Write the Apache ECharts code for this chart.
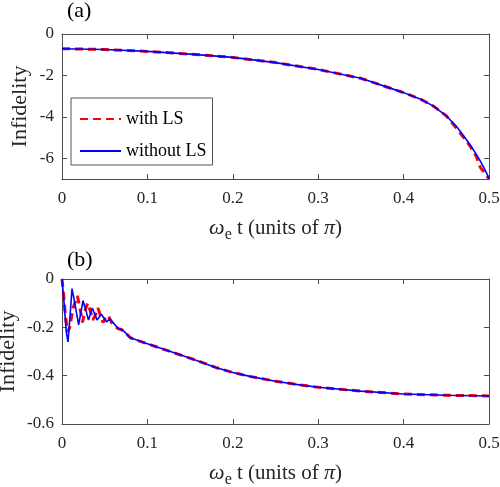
<!DOCTYPE html>
<html>
<head>
<meta charset="utf-8">
<script src="https://cdn.jsdelivr.net/npm/echarts@6/dist/echarts.min.js"></script>
<style>html,body{margin:0;padding:0;background:#fff}#c{width:500px;height:487px}</style>
</head>
<body>
<div id="c"></div>
<script>
// ---- Panel (a) data ----
var tA      = [0, 0.05, 0.1, 0.15, 0.2, 0.25, 0.3, 0.35, 0.4, 0.42, 0.435, 0.45, 0.462, 0.47, 0.478, 0.485, 0.49, 0.494, 0.497, 0.5];
var withA   = [-0.71, -0.75, -0.84, -0.97, -1.13, -1.38, -1.71, -2.14, -2.83, -3.15, -3.48, -3.95, -4.55, -4.98, -5.42, -5.9, -6.45, -6.65, -6.8, -7.0];
var withoutA= [-0.71, -0.75, -0.84, -0.97, -1.13, -1.38, -1.71, -2.14, -2.83, -3.15, -3.48, -3.95, -4.47, -4.9, -5.36, -5.8, -6.15, -6.45, -6.7, -7.0];
// ---- Panel (b) data ----
var tB_with   = [0, 0.002, 0.004, 0.0065, 0.009, 0.013, 0.018, 0.021, 0.024, 0.027, 0.030, 0.033, 0.036, 0.039, 0.042, 0.045, 0.048, 0.051, 0.054, 0.058, 0.065, 0.07, 0.073, 0.08, 0.09, 0.1, 0.12, 0.14, 0.16, 0.18, 0.2, 0.22, 0.25, 0.28, 0.3, 0.35, 0.4, 0.45, 0.5];
var withB     = [0, -0.07, -0.15, -0.22, -0.2, -0.12, -0.07, -0.12, -0.18, -0.13, -0.1, -0.13, -0.17, -0.15, -0.12, -0.15, -0.18, -0.16, -0.15, -0.18, -0.204, -0.21, -0.218, -0.243, -0.256, -0.268, -0.292, -0.316, -0.34, -0.366, -0.387, -0.403, -0.423, -0.439, -0.448, -0.464, -0.476, -0.481, -0.484];
var tB_without= [0, 0.002, 0.005, 0.007, 0.0095, 0.0117, 0.015, 0.0195, 0.0246, 0.028, 0.031, 0.0355, 0.041, 0.046, 0.052, 0.056, 0.0656, 0.07, 0.073, 0.08, 0.09, 0.1, 0.12, 0.14, 0.16, 0.18, 0.2, 0.22, 0.25, 0.28, 0.3, 0.35, 0.4, 0.45, 0.5];
var withoutB  = [0, -0.08, -0.22, -0.26, -0.15, -0.04, -0.1, -0.19, -0.09, -0.13, -0.17, -0.12, -0.17, -0.146, -0.177, -0.165, -0.204, -0.21, -0.218, -0.243, -0.256, -0.268, -0.292, -0.316, -0.34, -0.366, -0.387, -0.403, -0.423, -0.439, -0.448, -0.464, -0.476, -0.481, -0.484];
// ---- Axis ticks ----
var yTicksA = [0, -2, -4, -6];
var seriesNames = ['with LS', 'without LS'];

function pairs(xs, ys){ return xs.map(function(x,i){ return [x, ys[i]]; }); }

var FONT = 'Liberation Serif';
var AX = '#4d4d4d';
var TXT = '#262626';

var xNameRich = {
  w: {fontFamily: FONT, fontSize: 22, fontStyle: 'italic', color: TXT},
  s: {fontFamily: FONT, fontSize: 16, color: TXT, verticalAlign: 'bottom', padding: [14, 0, 0, 0]},
  n: {fontFamily: FONT, fontSize: 21, color: TXT}
};
var xName = '{w|ω}{s|e}{n| t (units of }{w|π}{n|)}';

function xAxes(gi){
  return [
    {gridIndex: gi, type: 'value', min: 0, max: 0.5, interval: 0.1, position: 'bottom',
     axisLine: {show: true, onZero: false, lineStyle: {color: AX, width: 1}},
     axisTick: {show: true, inside: true, length: 5, lineStyle: {color: AX}},
     axisLabel: {show: true, margin: 11, fontFamily: FONT, fontSize: 17, color: TXT,
       formatter: function(v){ return String(+v.toFixed(1)); }},
     splitLine: {show: false},
     name: xName, nameLocation: 'middle', nameGap: 34, nameMoveOverlap: false, nameTextStyle: {rich: xNameRich}},
    {gridIndex: gi, type: 'value', min: 0, max: 0.5, interval: 0.1, position: 'top',
     axisLine: {show: true, onZero: false, lineStyle: {color: AX, width: 1}},
     axisTick: {show: true, inside: true, length: 5, lineStyle: {color: AX}},
     axisLabel: {show: false}, splitLine: {show: false}}
  ];
}

var yA = [
  {gridIndex: 0, type: 'value', min: -7, max: 0, position: 'left',
   axisLine: {show: true, onZero: false, lineStyle: {color: AX}},
   axisTick: {show: true, inside: true, length: 5, lineStyle: {color: AX}, customValues: yTicksA},
   axisLabel: {show: true, margin: 8, fontFamily: FONT, fontSize: 17, color: TXT, customValues: yTicksA},
   splitLine: {show: false},
   name: 'Infidelity', nameLocation: 'middle', nameGap: 31, nameRotate: 90, nameMoveOverlap: false,
   nameTextStyle: {fontFamily: FONT, fontSize: 22, color: TXT}},
  {gridIndex: 0, type: 'value', min: -7, max: 0, position: 'right',
   axisLine: {show: true, onZero: false, lineStyle: {color: AX}},
   axisTick: {show: true, inside: true, length: 5, lineStyle: {color: AX}, customValues: yTicksA},
   axisLabel: {show: false, customValues: yTicksA}, splitLine: {show: false}}
];
var yB = [
  {gridIndex: 1, type: 'value', min: -0.6, max: 0, interval: 0.2, position: 'left',
   axisLine: {show: true, onZero: false, lineStyle: {color: AX}},
   axisTick: {show: true, inside: true, length: 5, lineStyle: {color: AX}},
   axisLabel: {show: true, margin: 8, fontFamily: FONT, fontSize: 17, color: TXT,
     formatter: function(v){ return String(+v.toFixed(1)); }},
   splitLine: {show: false},
   name: 'Infidelity', nameLocation: 'middle', nameGap: 43, nameRotate: 90, nameMoveOverlap: false,
   nameTextStyle: {fontFamily: FONT, fontSize: 22, color: TXT}},
  {gridIndex: 1, type: 'value', min: -0.6, max: 0, interval: 0.2, position: 'right',
   axisLine: {show: true, onZero: false, lineStyle: {color: AX}},
   axisTick: {show: true, inside: true, length: 5, lineStyle: {color: AX}},
   axisLabel: {show: false}, splitLine: {show: false}}
];

var redStyle = {color: '#ff0000', width: 3, type: [8, 5]};
var blueStyle = {color: '#0000ff', width: 1.6};

var option = {
  animation: false,
  backgroundColor: '#ffffff',
  grid: [
    {left: 62, top: 34, width: 427, height: 145, containLabel: false, outerBoundsMode: 'none'},
    {left: 62, top: 279, width: 427, height: 145, containLabel: false, outerBoundsMode: 'none'}
  ],
  xAxis: xAxes(0).concat(xAxes(1)),
  yAxis: yA.concat(yB),
  legend: {
    show: true,
    data: seriesNames, orient: 'vertical', left: 71, top: 98, z: 10,
    backgroundColor: '#ffffff', borderColor: '#555', borderWidth: 1,
    padding: [12, 6, 5, 8], itemWidth: 41, itemHeight: 14, itemGap: 14,
    itemStyle: {opacity: 0},
    textStyle: {fontFamily: FONT, fontSize: 18, color: '#000'}
  },
  graphic: [
    {type: 'text', left: 67, top: 0, style: {text: '(a)', font: '22px "Liberation Serif"', fill: '#000'}},
    {type: 'text', left: 67, top: 249, style: {text: '(b)', font: '22px "Liberation Serif"', fill: '#000'}}
  ],
  series: [
    {name: seriesNames[0], type: 'line', xAxisIndex: 0, yAxisIndex: 0, data: pairs(tA, withA),
     showSymbol: false, symbol: 'none', lineStyle: redStyle, itemStyle: {color: '#ff0000'}, z: 2},
    {name: seriesNames[1], type: 'line', xAxisIndex: 0, yAxisIndex: 0, data: pairs(tA, withoutA),
     showSymbol: false, symbol: 'none', lineStyle: blueStyle, itemStyle: {color: '#0000ff'}, z: 3},
    {name: seriesNames[0], type: 'line', xAxisIndex: 2, yAxisIndex: 2, data: pairs(tB_with, withB),
     showSymbol: false, symbol: 'none', lineStyle: redStyle, itemStyle: {color: '#ff0000'}, z: 2},
    {name: seriesNames[1], type: 'line', xAxisIndex: 2, yAxisIndex: 2, data: pairs(tB_without, withoutB),
     showSymbol: false, symbol: 'none', lineStyle: blueStyle, itemStyle: {color: '#0000ff'}, z: 3}
  ]
};
var chart = echarts.init(document.getElementById('c'), null, {renderer: 'canvas'});
chart.setOption(option);
</script>
</body>
</html>
